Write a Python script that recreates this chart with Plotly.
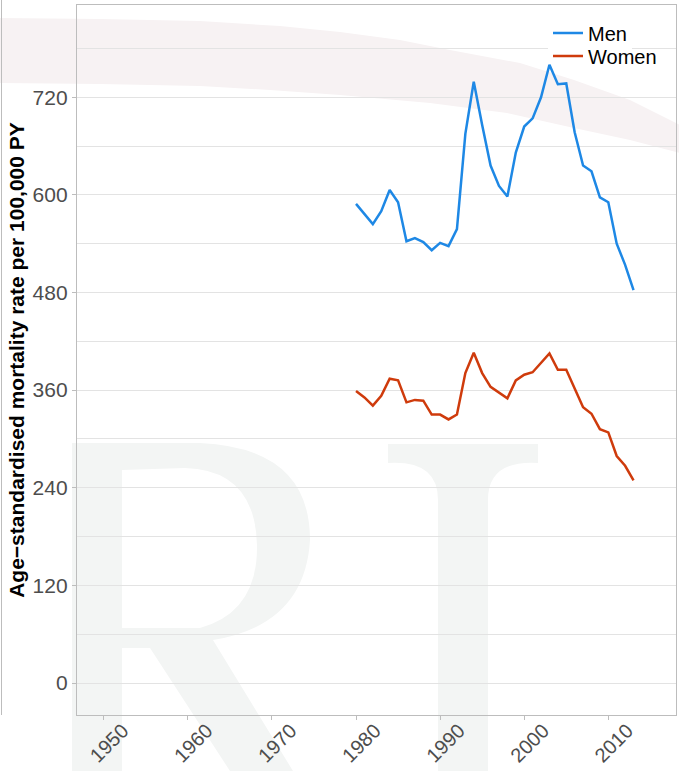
import plotly.graph_objects as go

# ---- data ----
years = list(range(1980, 2014))
men = [589, 576, 564, 580, 606, 591, 543, 547, 542, 532, 541, 537, 558, 675, 739,
       686, 636, 611, 598, 652, 684, 694, 720, 760, 736, 737, 677, 636, 629, 597,
       591, 540, 514, 483]
women = [359, 351, 341, 353, 374, 372, 345, 348, 347, 330, 330, 324, 330, 381, 406,
         381, 364, 357, 350, 372, 379, 382, 393, 405, 385, 385, 362, 339, 331, 312,
         308, 279, 267, 249]
x_ticks = [1950, 1960, 1970, 1980, 1990, 2000, 2010]
y_ticks = [0, 120, 240, 360, 480, 600, 720]

W, H = 679, 771
L, R, T, B = 77, 3, 5, 56
PW, PH = W - L - R, H - T - B

def px(xp):
    return (xp - L) / PW

def py(yp):
    return (H - B - yp) / PH

def pt(a, b):
    return f"{px(a):.4f},{py(b):.4f}"

def path(cmds):
    out = []
    for c, pts in cmds:
        if c == "Z":
            out.append("Z")
        else:
            out.append(c + " ".join(pt(a, b) for a, b in pts))
    return " ".join(out)

def poly(points):
    return path([("M", [points[0]])] + [("L", [p]) for p in points[1:]] + [("Z", [])])

FONT = "Liberation Sans, Arial, Helvetica, sans-serif"
BLUE = "#1E88E5"
RED = "#CF3B0C"
WM = "#F3F5F4"

fig = go.Figure()
fig.add_trace(go.Scatter(x=years, y=men, mode="lines", name="Men", legend="legend",
                         line=dict(color=BLUE, width=2.5)))
fig.add_trace(go.Scatter(x=years, y=women, mode="lines", name="Women", legend="legend2",
                         line=dict(color=RED, width=2.5)))

# watermark shapes (background decoration)
band_top = [(0, 18), (100, 19), (200, 21), (280, 26), (340, 32), (400, 40), (450, 50),
            (520, 63), (574, 80), (630, 100), (680, 125)]
band_bot = [(680, 153), (630, 140), (574, 128), (507, 113), (430, 103), (340, 95),
            (270, 90), (200, 86), (100, 84), (0, 83)]
shapes = [dict(type="path", xref="paper", yref="paper", layer="below",
               path=poly(band_top + band_bot), fillcolor="#F7F2F3", line=dict(width=0))]

r_path = path([
    ("M", [(72, 771)]), ("L", [(72, 443)]), ("L", [(200, 443)]),
    ("Q", [(310, 448), (310, 540)]), ("Q", [(305, 625), (213, 640)]),
    ("L", [(293, 771)]), ("L", [(230, 771)]), ("L", [(150, 648)]), ("L", [(122, 648)]),
    ("L", [(122, 771)]), ("Z", []),
    ("M", [(122, 470)]), ("L", [(122, 628)]), ("L", [(200, 628)]),
    ("Q", [(258, 612), (257, 545)]), ("Q", [(255, 470), (185, 468)]), ("Z", []),
])
t_path = path([
    ("M", [(388, 444)]), ("L", [(538, 444)]), ("L", [(538, 463)]),
    ("Q", [(488, 460), (488, 500)]), ("L", [(488, 771)]), ("L", [(438, 771)]),
    ("L", [(438, 500)]), ("Q", [(438, 460), (388, 463)]), ("Z", []),
])
shapes.append(dict(type="path", xref="paper", yref="paper", layer="below",
                   path=r_path, fillcolor=WM, line=dict(width=0)))
shapes.append(dict(type="path", xref="paper", yref="paper", layer="below",
                   path=t_path, fillcolor=WM, line=dict(width=0)))
# edge of neighbouring panel on the left
shapes.append(dict(type="line", xref="paper", yref="paper", layer="below",
                   x0=px(1.5), x1=px(1.5), y0=py(0), y1=py(715),
                   line=dict(color="#BDBDBD", width=1)))

legend_common = dict(xanchor="left", yanchor="middle",
                     font=dict(size=20, color="black"), itemwidth=30)

fig.update_layout(
    width=W, height=H,
    margin=dict(l=L, r=R, t=T, b=B, autoexpand=False),
    paper_bgcolor="white",
    plot_bgcolor="rgba(0,0,0,0)",
    font=dict(family=FONT, size=20, color="#4D4D4D"),
    shapes=shapes,
    showlegend=True,
    legend=dict(x=px(548), y=py(33), bgcolor="white", **legend_common),
    legend2=dict(x=px(548), y=py(56), bgcolor="rgba(0,0,0,0)", **legend_common),
    xaxis=dict(range=[1946.82, 2018.05], tickvals=x_ticks,
               ticktext=[str(v) for v in x_ticks], tickangle=-45, automargin=False,
               showgrid=False, zeroline=False, showline=True, mirror=True,
               linecolor="#BDBDBD", linewidth=1.3, ticks="outside", ticklen=4,
               tickcolor="#BDBDBD", tickfont=dict(size=20, color="#4D4D4D"),
               ticklabelshift=19, ticklabelstandoff=-9),
    yaxis=dict(range=[-39.3, 833.4], tickvals=y_ticks, automargin=False,
               ticktext=[str(v) for v in y_ticks],
               showgrid=True, gridcolor="#E3E3E3", gridwidth=1,
               minor=dict(tickvals=[60, 180, 300, 420, 540, 660, 780], showgrid=True,
                          gridcolor="#E3E3E3", gridwidth=1),
               zeroline=False, showline=True, mirror=True,
               linecolor="#BDBDBD", linewidth=1.3, ticks="outside", ticklen=4,
               tickcolor="#BDBDBD", tickfont=dict(size=21, color="#4D4D4D"),
               title=dict(text="Age\u2212standardised mortality rate per 100,000 PY",
                          font=dict(size=21, color="black", weight="bold"),
                          standoff=2)),
)

fig.write_html("out.html", config={"displayModeBar": False},
               post_script="document.body.style.margin='0px';document.body.style.padding='0px';")
